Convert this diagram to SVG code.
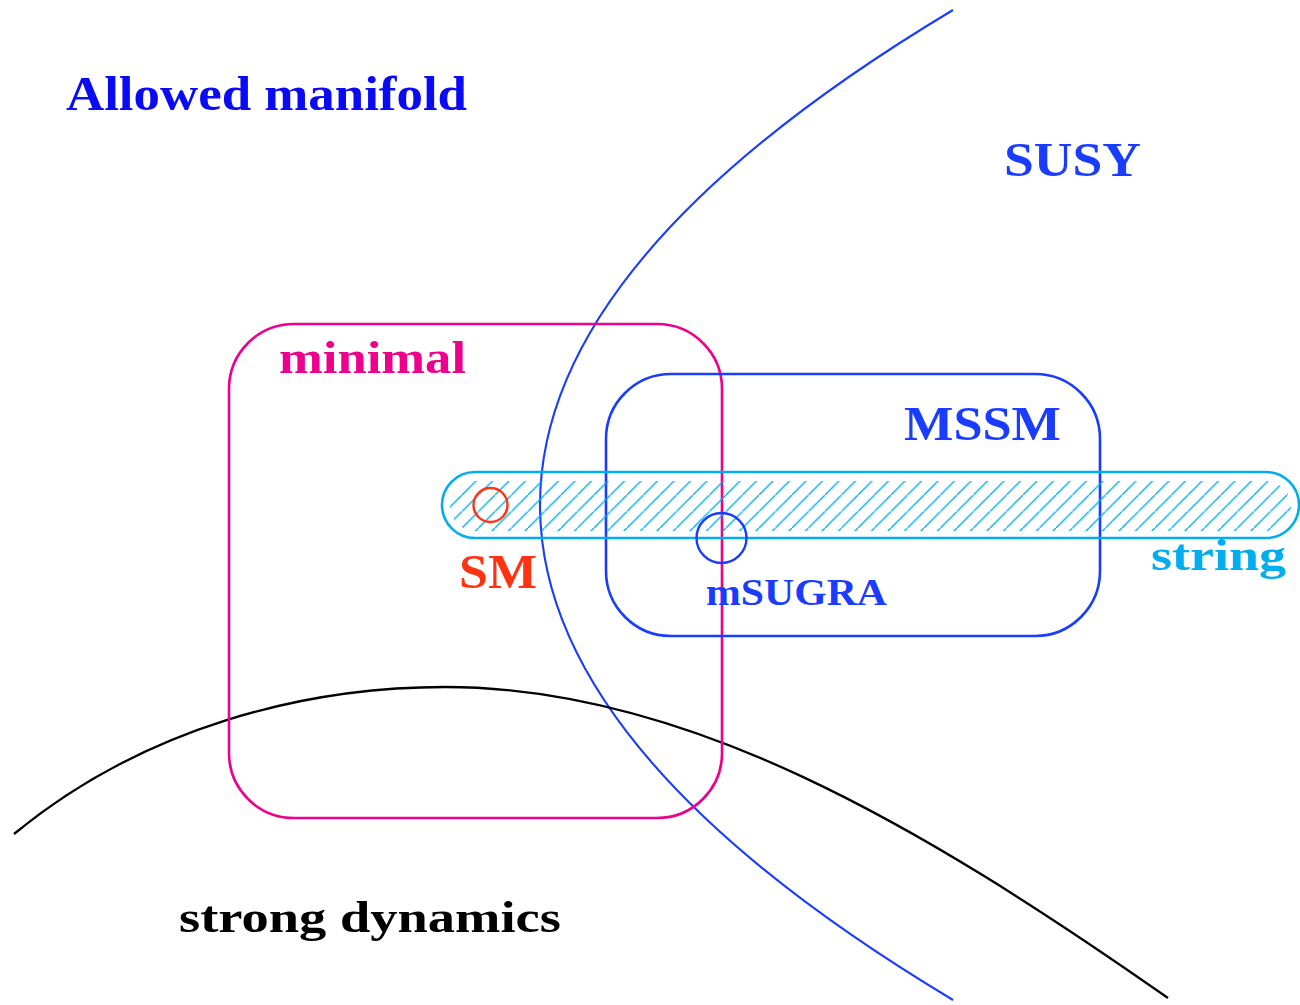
<svg xmlns="http://www.w3.org/2000/svg" width="1300" height="1005" viewBox="0 0 1300 1005">
<style>
  .lbl{font-family:"Liberation Serif","DejaVu Serif",serif;font-weight:bold}
  .box{fill:none;stroke-width:2.6}
  .pink{stroke:#EC008C}
  .blue{stroke:#1A3CFF}
  .cyan{stroke:#00AEEF}
</style>
<defs>
  <pattern id="hatch" patternUnits="userSpaceOnUse" width="16.5" height="16.5">
    <line x1="-2" y1="18.5" x2="18.5" y2="-2" stroke="#00AEEF" stroke-width="1.4"/>
  </pattern>
  <clipPath id="hatchClip">
    <rect x="450" y="481" width="841" height="50" rx="25" ry="25"/>
  </clipPath>
</defs>
<rect width="1300" height="1005" fill="#fff"/>

<g id="connectors">
  <path id="susy-boundary" d="M953,10 Q127,505 953,1000" fill="none" stroke="#1A3CFF" stroke-width="2.1"/>
  <path id="strong-boundary" d="M14,834 C144,727 305,687 445,687 C685,687 918,823 1168,998" fill="none" stroke="#000" stroke-width="2.3"/>
</g>

<g id="allowed-manifold">
  <text class="lbl" x="66" y="110" font-size="48" fill="#0A0AF5" textLength="401" lengthAdjust="spacingAndGlyphs">Allowed manifold</text>
</g>
<g id="susy">
  <text class="lbl" x="1004" y="176" font-size="48" fill="#1A3CFF" textLength="137" lengthAdjust="spacingAndGlyphs">SUSY</text>
</g>
<g id="strong-dynamics">
  <text class="lbl" x="179" y="932" font-size="44" fill="#000" textLength="382" lengthAdjust="spacingAndGlyphs">strong dynamics</text>
</g>

<g id="minimal">
  <rect class="box pink" x="229" y="324" width="493" height="494" rx="65" ry="65"/>
  <text class="lbl" x="279" y="373" font-size="46" fill="#EC008C" textLength="187" lengthAdjust="spacingAndGlyphs">minimal</text>
</g>

<g id="mssm">
  <rect class="box blue" x="606" y="374" width="494" height="262" rx="65" ry="65"/>
  <text class="lbl" x="904" y="440" font-size="48" fill="#1A3CFF" textLength="157" lengthAdjust="spacingAndGlyphs">MSSM</text>
</g>

<g id="string">
  <rect x="442" y="472" width="857" height="66" fill="url(#hatch)" clip-path="url(#hatchClip)"/>
  <rect class="box cyan" x="442" y="472" width="857" height="66" rx="33" ry="33"/>
  <text class="lbl" x="1151" y="570" font-size="44" fill="#00AEEF" textLength="135" lengthAdjust="spacingAndGlyphs">string</text>
</g>

<g id="sm">
  <circle cx="490.5" cy="505" r="17" fill="none" stroke="#FF3311" stroke-width="2.4"/>
  <text class="lbl" x="459" y="588" font-size="48" fill="#FF3311" textLength="78" lengthAdjust="spacingAndGlyphs">SM</text>
</g>

<g id="msugra">
  <circle cx="721.5" cy="538" r="25" fill="none" stroke="#1A3CFF" stroke-width="2.4"/>
  <text class="lbl" x="706" y="605" font-size="38" fill="#1A3CFF" textLength="181" lengthAdjust="spacingAndGlyphs">mSUGRA</text>
</g>
</svg>
